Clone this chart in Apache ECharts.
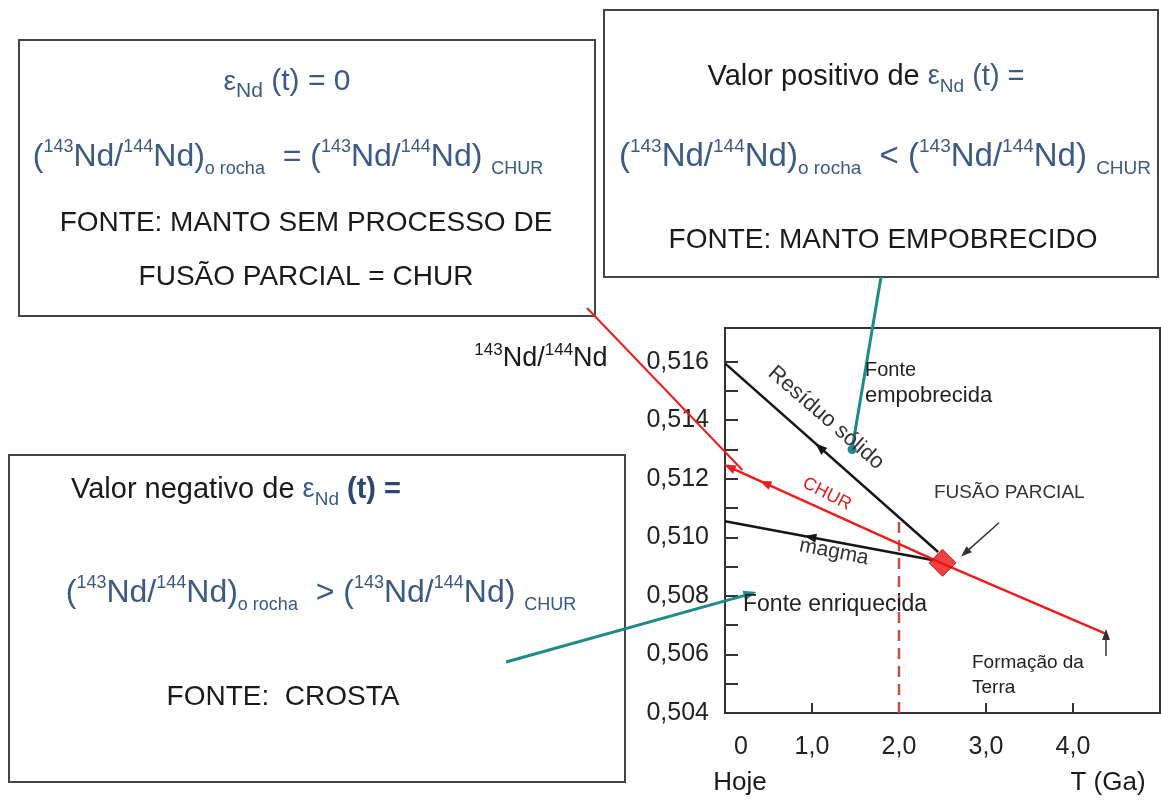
<!DOCTYPE html>
<html><head><meta charset="utf-8">
<script src="https://cdn.jsdelivr.net/npm/echarts@6/dist/echarts.min.js"></script>
<style>html,body{margin:0;padding:0;background:#fff}#c{width:1161px;height:801px}</style>
</head><body><div id="c"></div>
<script>
// ---- data (T in Ga, ratio 143Nd/144Nd) ----
const residuoT = [0, 2.45];
const residuoV = [0.51594, 0.5095];
const magmaT = [0, 2.4];
const magmaV = [0.51055, 0.50922];
const churT = [0.05, 2.5, 4.38];
const churV = [0.5124, 0.5091, 0.5067];
const dashedT = [2.0, 2.0];
const dashedV = [0.504, 0.5106];
const fusaoParcialPoint = [2.5, 0.50913];
const arrowAtT = { residuo: 1.09, magma: 0.98, chur: 0.46, churEnd: 0.05 };
const tealSolidoEnd = [1.46, 0.5130];
const tealEnriqEnd = [0.29, 0.50807];
const fusaoArrowFrom = [3.15, 0.5105];
const fusaoArrowTo = [2.76, 0.50947];
const terraArrowFrom = [4.38, 0.50595];
const terraArrowTo = [4.38, 0.50668];
const churPointerEnd = [0.2, 0.5123];
const yTickValues = [0.504,0.505,0.506,0.507,0.508,0.509,0.510,0.511,0.512,0.513,0.514,0.515,0.516];
const yLabelValues = [0.504,0.506,0.508,0.510,0.512,0.514,0.516];
const xTickValues = [1,2,3,4];
const xLabelValues = [0,1,2,3,4];

const FF = "'Liberation Sans', Arial, sans-serif";
const BLUE = '#3b5b86';
const INK = '#1a1a1a';

function interp(ts, vs, t) {
  for (let i = 0; i < ts.length - 1; i++) {
    if (t >= ts[i] && t <= ts[i+1]) {
      const f = (t - ts[i]) / (ts[i+1] - ts[i]);
      return vs[i] + f * (vs[i+1] - vs[i]);
    }
  }
  return vs[vs.length-1];
}
function pairs(ts, vs) { return ts.map((t, i) => [t, vs[i]]); }
// short segment lying on a line, ending at t, pointing toward decreasing T
function onLineArrow(ts, vs, t, color) {
  const t0 = t + 0.12;
  return [
    { coord: [t0, interp(ts, vs, t0)], symbol: 'none', lineStyle: { width: 0, color: color, type: 'solid' } },
    { coord: [t, interp(ts, vs, t)], symbol: 'triangle', symbolSize: [9, 12], itemStyle: { color: color } }
  ];
}

const chart = echarts.init(document.getElementById('c'), null, { renderer: 'canvas' });

function rt(x, y, text, rich, opts) {
  opts = opts || {};
  return {
    type: 'text', x: x, y: y, rotation: opts.rotation || 0, z: 10,
    style: Object.assign({
      text: text, rich: rich, align: opts.align || 'center', verticalAlign: 'middle',
      fontFamily: FF, fontSize: opts.fontSize || 28, fill: opts.fill || INK
    }, opts.style || {})
  };
}
function formulaRich(M, S) {
  return {
    p: { fontSize: M, fontFamily: FF, fill: BLUE, lineHeight: Math.round(M * 1.3), verticalAlign: 'middle' },
    sup: { fontSize: S, fontFamily: FF, fill: BLUE, lineHeight: Math.round(M * 1.3), verticalAlign: 'top', padding: [2, 0, 0, 0] },
    sub: { fontSize: S, fontFamily: FF, fill: BLUE, lineHeight: Math.round(M * 1.3), verticalAlign: 'bottom' }
  };
}
function formulaText(op) {
  return '{p|(}{sup|143}{p|Nd/}{sup|144}{p|Nd)}{sub|o rocha}{p|  ' + op + ' (}{sup|143}{p|Nd/}{sup|144}{p|Nd) }{sub|CHUR}';
}
function epsRich(M, S, bold) {
  return {
    k: { fontSize: M, fontFamily: FF, fill: INK, lineHeight: Math.round(M * 1.3), verticalAlign: 'middle' },
    e: { fontSize: M - 2, fontFamily: FF, fill: BLUE, lineHeight: Math.round(M * 1.3), verticalAlign: 'middle' },
    sub: { fontSize: S, fontFamily: FF, fill: BLUE, lineHeight: Math.round(M * 1.3), verticalAlign: 'bottom' },
    b: { fontSize: M, fontFamily: FF, fill: bold ? '#2d4670' : BLUE, fontWeight: bold ? 'bold' : 'normal', lineHeight: Math.round(M * 1.3), verticalAlign: 'middle' }
  };
}

const graphics = [
  // boxes
  { type: 'rect', shape: { x: 19, y: 40, width: 576, height: 276 }, style: { fill: '#fff', stroke: '#444', lineWidth: 2 }, z: 1 },
  { type: 'rect', shape: { x: 604, y: 10, width: 554, height: 267 }, style: { fill: '#fff', stroke: '#444', lineWidth: 2 }, z: 1 },
  { type: 'rect', shape: { x: 9, y: 455, width: 616, height: 327 }, style: { fill: '#fff', stroke: '#444', lineWidth: 2 }, z: 1 },
  // box 1
  rt(287, 82, '{e|ε}{sub|Nd}{b| (t) = 0}', epsRich(30, 21, false)),
  rt(288, 157, formulaText('='), formulaRich(32, 18)),
  rt(306, 223, 'FONTE: MANTO SEM PROCESSO DE', null, { fontSize: 28 }),
  rt(306, 277, 'FUSÃO PARCIAL = CHUR', null, { fontSize: 28 }),
  // box 2
  rt(866, 77, '{k|Valor positivo de }{e|ε}{sub|Nd}{b| (t) =}', epsRich(29, 19, false)),
  rt(885, 157, formulaText('<'), formulaRich(33, 19)),
  rt(883, 240, 'FONTE: MANTO EMPOBRECIDO', null, { fontSize: 28 }),
  // box 3
  rt(71, 490, '{k|Valor negativo de }{e|ε}{sub|Nd}{b| (t) =}', epsRich(29, 19, true), { align: 'left' }),
  rt(321, 593, formulaText('>'), formulaRich(32, 18)),
  rt(283, 697, 'FONTE:  CROSTA', null, { fontSize: 28 }),
  // axis name and axis captions
  rt(541, 359, '{sup|143}{p|Nd/}{sup|144}{p|Nd}', {
    p: { fontSize: 27, fontFamily: FF, fill: INK, lineHeight: 34, verticalAlign: 'middle' },
    sup: { fontSize: 17, fontFamily: FF, fill: INK, lineHeight: 34, verticalAlign: 'top' }
  }),
  rt(740, 783, 'Hoje', null, { fontSize: 26 }),
  rt(1108, 783, 'T (Ga)', null, { fontSize: 26 }),
  // plot annotations
  rt(826, 418, 'Resíduo sólido', null, { fontSize: 22, fill: '#333', rotation: -41 * Math.PI / 180 }),
  rt(827, 494, 'CHUR', null, { fontSize: 18, fill: '#e02020', rotation: -27 * Math.PI / 180 }),
  rt(834, 552, 'magma', null, { fontSize: 21, fill: '#333', rotation: -11 * Math.PI / 180 }),
  rt(865, 370, 'Fonte', null, { fontSize: 20, fill: '#222', align: 'left' }),
  rt(865, 396, 'empobrecida', null, { fontSize: 22, fill: '#222', align: 'left' }),
  rt(934, 493, 'FUSÃO PARCIAL', null, { fontSize: 19, fill: '#333', align: 'left' }),
  rt(743, 605, 'Fonte enriquecida', null, { fontSize: 23, fill: '#222', align: 'left' }),
  rt(972, 663, 'Formação da', null, { fontSize: 19, fill: '#222', align: 'left' }),
  rt(972, 688, 'Terra', null, { fontSize: 19, fill: '#222', align: 'left' })
];

const solidML = { type: 'solid' };

const option = {
  animation: false,
  backgroundColor: '#fff',
  grid: { left: 725, top: 328, right: 1, bottom: 88, show: true, borderColor: '#333', borderWidth: 2, backgroundColor: 'transparent' },
  xAxis: {
    type: 'value', min: 0, max: 5,
    axisLine: { show: true, lineStyle: { color: '#333', width: 2 } },
    axisTick: { show: true, inside: true, length: 10, customValues: xTickValues, lineStyle: { color: '#333', width: 2 } },
    splitLine: { show: false },
    axisLabel: {
      customValues: xLabelValues, margin: 22, fontSize: 25, fontFamily: FF, color: '#222',
      formatter: v => v === 0 ? '{z|0}' : v.toFixed(1).replace('.', ','),
      rich: { z: { fontSize: 25, fontFamily: FF, color: '#222', padding: [0, 0, 0, 32] } }
    }
  },
  yAxis: {
    type: 'value', min: 0.504, max: 0.51715,
    axisLine: { show: true, lineStyle: { color: '#333', width: 2 } },
    axisTick: { show: true, inside: true, length: 13, customValues: yTickValues, lineStyle: { color: '#333', width: 2 } },
    splitLine: { show: false },
    axisLabel: {
      customValues: yLabelValues, margin: 16, fontSize: 25, fontFamily: FF, color: '#222',
      formatter: v => v.toFixed(3).replace('.', ',')
    }
  },
  graphic: graphics,
  series: [
    {
      name: 'Resíduo sólido', type: 'line', data: pairs(residuoT, residuoV), symbol: 'none', silent: true,
      lineStyle: { color: '#151515', width: 2.5 }, z: 3,
      markLine: {
        silent: true, animation: false, label: { show: false }, symbol: ['none', 'triangle'],
        lineStyle: solidML,
        data: [
          onLineArrow(residuoT, residuoV, arrowAtT.residuo, '#151515'),
          [ { x: 881, y: 277, symbol: 'none', lineStyle: { color: '#1f8a8a', width: 3, type: 'solid' } },
            { coord: tealSolidoEnd, symbol: 'circle', symbolSize: 9, itemStyle: { color: '#1f8a8a' } } ],
          [ { x: 506, y: 662, symbol: 'none', lineStyle: { color: '#1f8a8a', width: 3, type: 'solid' } },
            { coord: tealEnriqEnd, symbol: 'triangle', symbolSize: [10, 13], itemStyle: { color: '#1f8a8a' } } ],
          [ { coord: fusaoArrowFrom, symbol: 'none', lineStyle: { color: '#333', width: 1.5, type: 'solid' } },
            { coord: fusaoArrowTo, symbol: 'triangle', symbolSize: [8, 11], itemStyle: { color: '#222' } } ],
          [ { coord: terraArrowFrom, symbol: 'none', lineStyle: { color: '#333', width: 1.5, type: 'solid' } },
            { coord: terraArrowTo, symbol: 'triangle', symbolSize: [8, 11], itemStyle: { color: '#222' } } ]
        ]
      }
    },
    {
      name: 'magma', type: 'line', data: pairs(magmaT, magmaV), symbol: 'none', silent: true,
      lineStyle: { color: '#151515', width: 2.5 }, z: 3,
      markLine: {
        silent: true, animation: false, label: { show: false }, symbol: ['none', 'triangle'],
        lineStyle: solidML,
        data: [ onLineArrow(magmaT, magmaV, arrowAtT.magma, '#151515') ]
      }
    },
    {
      name: 'CHUR', type: 'line', data: pairs(churT, churV), symbol: 'none', silent: true,
      lineStyle: { color: '#ee1c1c', width: 2.5 }, z: 4,
      markLine: {
        silent: true, animation: false, label: { show: false }, symbol: ['none', 'triangle'],
        lineStyle: solidML,
        data: [
          onLineArrow(churT, churV, arrowAtT.chur, '#ee1c1c'),
          onLineArrow(churT, churV, arrowAtT.churEnd, '#ee1c1c'),
          [ { x: 587, y: 308, symbol: 'none', lineStyle: { color: '#ee1c1c', width: 2, type: 'solid' } },
            { coord: churPointerEnd, symbol: 'none' } ]
        ]
      }
    },
    {
      name: 'T = 2,0', type: 'line', data: pairs(dashedT, dashedV), symbol: 'none', silent: true,
      lineStyle: { color: '#c0504d', width: 2.5, type: [11, 7] }, z: 2
    },
    {
      name: 'Fusão parcial', type: 'scatter', data: [fusaoParcialPoint], symbol: 'diamond', symbolSize: 27,
      itemStyle: { color: '#ee1111', borderColor: '#a00', borderWidth: 1 }, z: 6, silent: true
    }
  ]
};
chart.setOption(option);
</script>
</body></html>
